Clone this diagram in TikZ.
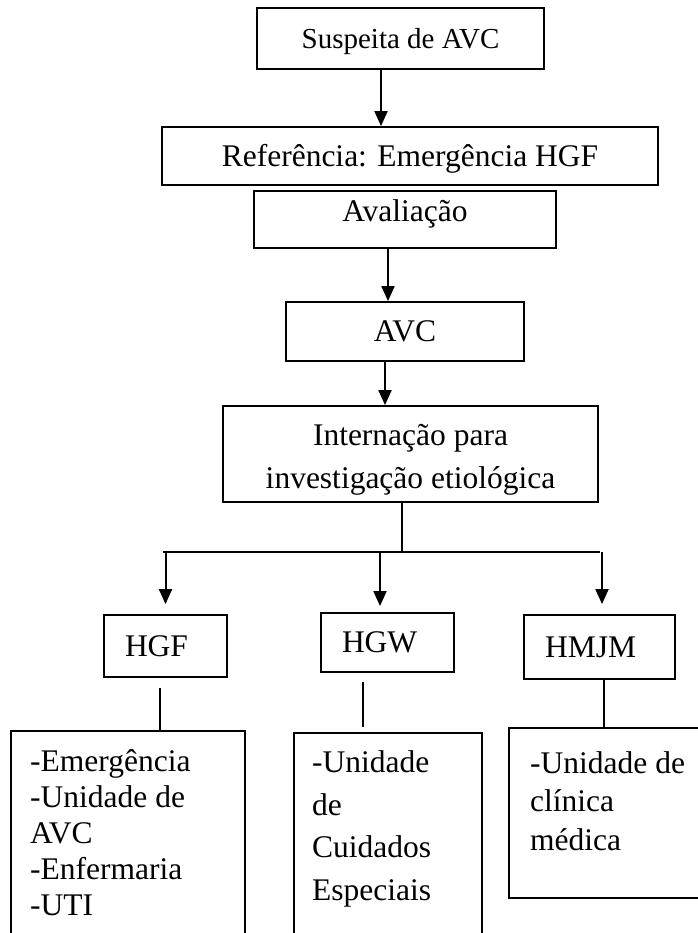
\documentclass[tikz,border=0pt]{standalone}
\usepackage{fontspec}
\setmainfont{Liberation Serif}
\usetikzlibrary{arrows.meta}

\newcommand{\mainsize}{\fontsize{31.5}{43}\selectfont}

\tikzset{
  box/.style={draw, line width=1.8pt, inner sep=0pt, font=\mainsize, align=center},
  one/.style={text height=20.8pt, text depth=0pt},
  hosp/.style={box, one, align=left, inner xsep=21pt},
  unitbox/.style={draw, line width=1.8pt, inner sep=0pt, anchor=north west},
  unittext/.style={anchor=base west, align=left, inner sep=0pt},
  arr/.style={line width=2pt, -{Triangle[width=13pt,length=15pt]}},
  ln/.style={line width=2pt}
}

\begin{document}
\begin{tikzpicture}[x=1pt, y=-1pt]
\useasboundingbox (0,0) rectangle (697,933);

\node[box, one, font=\fontsize{29}{36}\selectfont, minimum width=287pt, minimum height=61pt] (susp) at (400.5,38.5) {Suspeita de AVC};
\node[box, one, minimum width=496pt, minimum height=58pt] (ref) at (410,156) {Referência: Emergência HGF};
\node[box, one, text depth=16pt, minimum width=302pt, minimum height=57pt] (aval) at (405,219.5) {Avaliação};
\node[box, one, minimum width=238pt, minimum height=59pt] (avc) at (405,331.5) {AVC};
\node[box, text height=68pt, text depth=0pt, minimum width=375pt, minimum height=96pt] (intern) at (410.5,454) {Internação para\\investigação etiológica};

\node[hosp, text width=81pt, minimum height=62pt] (hgf) at (165.5,646) {HGF};
\node[hosp, text width=91pt, minimum height=59pt] (hgw) at (387.5,642.5) {HGW};
\node[hosp, text width=109pt, minimum height=64pt] (hmjm) at (599.5,647) {HMJM};

\node[unitbox, minimum width=234pt, minimum height=260pt] (uhgf) at (10,730) {};
\node[unitbox, minimum width=188pt, minimum height=260pt] (uhgw) at (293,732) {};
\node[unitbox, minimum width=200pt, minimum height=170pt] (uhmjm) at (508,727) {};

\node[unittext, font=\fontsize{31.5}{36}\selectfont] (thgf) at ([xshift=20pt,yshift=-185pt]uhgf.north west) {-Emergência\\-Unidade de\\AVC\\-Enfermaria\\-UTI};
\node[unittext, font=\fontsize{31.5}{42.5}\selectfont] (thgw) at ([xshift=19pt,yshift=-168pt]uhgw.north west) {-Unidade\\de\\Cuidados\\Especiais};
\node[unittext, font=\fontsize{31.5}{38.5}\selectfont] (thmjm) at ([xshift=22pt,yshift=-123pt]uhmjm.north west) {-Unidade de\\clínica\\médica};

\coordinate (split) at (402,552);
\coordinate (splitl) at (163,552);
\coordinate (splitr) at (600,552);

\draw[arr] ([xshift=-19.5pt]susp.south) -- ([xshift=-19.5pt]susp.south |- ref.north);
\draw[arr] ([xshift=-17pt]aval.south) -- ([xshift=-17pt]aval.south |- avc.north);
\draw[arr] ([xshift=-20pt]avc.south) -- ([xshift=-20pt]avc.south |- intern.north);
\draw[ln] ([xshift=-8.5pt]intern.south) -- (split);
\draw[ln] (splitl) -- (splitr);

\draw[arr] (hgf.north |- splitl) -- ([yshift=10pt]hgf.north);
\draw[arr] ([xshift=-7.5pt]hgw.north |- splitl) -- ([xshift=-7.5pt,yshift=6pt]hgw.north);
\draw[arr] ([xshift=2.5pt]hmjm.north |- splitr) -- ([xshift=2.5pt,yshift=10pt]hmjm.north);

\draw[ln] ([xshift=-5.5pt,yshift=-10pt]hgf.south) -- ([xshift=-5.5pt]hgf.south |- uhgf.north);
\draw[ln] ([xshift=-24.5pt,yshift=-9pt]hgw.south) -- ([xshift=-24.5pt,yshift=5pt]hgw.south |- uhgw.north);
\draw[ln] ([xshift=4.5pt]hmjm.south) -- ([xshift=4.5pt]hmjm.south |- uhmjm.north);

\end{tikzpicture}
\end{document}
